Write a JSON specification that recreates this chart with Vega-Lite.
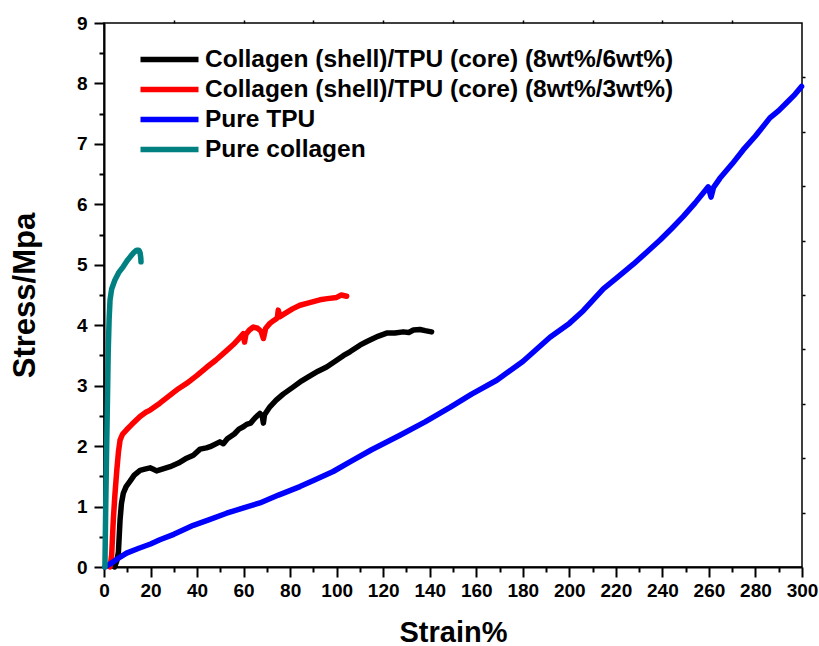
{
  "$schema": "https://vega.github.io/schema/vega-lite/v6.json",
  "width": 698,
  "height": 544,
  "autosize": "none",
  "padding": {"left": 104, "top": 23, "right": 17, "bottom": 79},
  "background": "white",
  "config": {
    "font": "Liberation Sans",
    "view": {"stroke": "black", "strokeWidth": 1.5}
  },
  "data": {
    "values": [
      {"s": "Collagen (shell)/TPU (core) (8wt%/6wt%)", "x": 4.5, "y": 0},
      {"s": "Collagen (shell)/TPU (core) (8wt%/6wt%)", "x": 5.5, "y": 0.1},
      {"s": "Collagen (shell)/TPU (core) (8wt%/6wt%)", "x": 6.2, "y": 0.25},
      {"s": "Collagen (shell)/TPU (core) (8wt%/6wt%)", "x": 6.9, "y": 0.78},
      {"s": "Collagen (shell)/TPU (core) (8wt%/6wt%)", "x": 7.5, "y": 1.05},
      {"s": "Collagen (shell)/TPU (core) (8wt%/6wt%)", "x": 8.3, "y": 1.22},
      {"s": "Collagen (shell)/TPU (core) (8wt%/6wt%)", "x": 9.5, "y": 1.33},
      {"s": "Collagen (shell)/TPU (core) (8wt%/6wt%)", "x": 11.2, "y": 1.42},
      {"s": "Collagen (shell)/TPU (core) (8wt%/6wt%)", "x": 13, "y": 1.52},
      {"s": "Collagen (shell)/TPU (core) (8wt%/6wt%)", "x": 15.5, "y": 1.6},
      {"s": "Collagen (shell)/TPU (core) (8wt%/6wt%)", "x": 17.5, "y": 1.62},
      {"s": "Collagen (shell)/TPU (core) (8wt%/6wt%)", "x": 19.8, "y": 1.64},
      {"s": "Collagen (shell)/TPU (core) (8wt%/6wt%)", "x": 21, "y": 1.62},
      {"s": "Collagen (shell)/TPU (core) (8wt%/6wt%)", "x": 22.6, "y": 1.59},
      {"s": "Collagen (shell)/TPU (core) (8wt%/6wt%)", "x": 25, "y": 1.62},
      {"s": "Collagen (shell)/TPU (core) (8wt%/6wt%)", "x": 28.4, "y": 1.66},
      {"s": "Collagen (shell)/TPU (core) (8wt%/6wt%)", "x": 32, "y": 1.72},
      {"s": "Collagen (shell)/TPU (core) (8wt%/6wt%)", "x": 35, "y": 1.79},
      {"s": "Collagen (shell)/TPU (core) (8wt%/6wt%)", "x": 38.4, "y": 1.85},
      {"s": "Collagen (shell)/TPU (core) (8wt%/6wt%)", "x": 41.3, "y": 1.95},
      {"s": "Collagen (shell)/TPU (core) (8wt%/6wt%)", "x": 44, "y": 1.97},
      {"s": "Collagen (shell)/TPU (core) (8wt%/6wt%)", "x": 45.6, "y": 1.99},
      {"s": "Collagen (shell)/TPU (core) (8wt%/6wt%)", "x": 49.8, "y": 2.07},
      {"s": "Collagen (shell)/TPU (core) (8wt%/6wt%)", "x": 51.3, "y": 2.04},
      {"s": "Collagen (shell)/TPU (core) (8wt%/6wt%)", "x": 53, "y": 2.12},
      {"s": "Collagen (shell)/TPU (core) (8wt%/6wt%)", "x": 56, "y": 2.2},
      {"s": "Collagen (shell)/TPU (core) (8wt%/6wt%)", "x": 58, "y": 2.28},
      {"s": "Collagen (shell)/TPU (core) (8wt%/6wt%)", "x": 59.9, "y": 2.32},
      {"s": "Collagen (shell)/TPU (core) (8wt%/6wt%)", "x": 61.3, "y": 2.36},
      {"s": "Collagen (shell)/TPU (core) (8wt%/6wt%)", "x": 63, "y": 2.38},
      {"s": "Collagen (shell)/TPU (core) (8wt%/6wt%)", "x": 65, "y": 2.47},
      {"s": "Collagen (shell)/TPU (core) (8wt%/6wt%)", "x": 67, "y": 2.54},
      {"s": "Collagen (shell)/TPU (core) (8wt%/6wt%)", "x": 68, "y": 2.5},
      {"s": "Collagen (shell)/TPU (core) (8wt%/6wt%)", "x": 68.5, "y": 2.38},
      {"s": "Collagen (shell)/TPU (core) (8wt%/6wt%)", "x": 69, "y": 2.52},
      {"s": "Collagen (shell)/TPU (core) (8wt%/6wt%)", "x": 71.3, "y": 2.65},
      {"s": "Collagen (shell)/TPU (core) (8wt%/6wt%)", "x": 74, "y": 2.76},
      {"s": "Collagen (shell)/TPU (core) (8wt%/6wt%)", "x": 77, "y": 2.86},
      {"s": "Collagen (shell)/TPU (core) (8wt%/6wt%)", "x": 81.4, "y": 2.98},
      {"s": "Collagen (shell)/TPU (core) (8wt%/6wt%)", "x": 85, "y": 3.08},
      {"s": "Collagen (shell)/TPU (core) (8wt%/6wt%)", "x": 88, "y": 3.15},
      {"s": "Collagen (shell)/TPU (core) (8wt%/6wt%)", "x": 92, "y": 3.24},
      {"s": "Collagen (shell)/TPU (core) (8wt%/6wt%)", "x": 95.7, "y": 3.31},
      {"s": "Collagen (shell)/TPU (core) (8wt%/6wt%)", "x": 100, "y": 3.42},
      {"s": "Collagen (shell)/TPU (core) (8wt%/6wt%)", "x": 103, "y": 3.5},
      {"s": "Collagen (shell)/TPU (core) (8wt%/6wt%)", "x": 105.7, "y": 3.56},
      {"s": "Collagen (shell)/TPU (core) (8wt%/6wt%)", "x": 110, "y": 3.67},
      {"s": "Collagen (shell)/TPU (core) (8wt%/6wt%)", "x": 113, "y": 3.73},
      {"s": "Collagen (shell)/TPU (core) (8wt%/6wt%)", "x": 115.7, "y": 3.78},
      {"s": "Collagen (shell)/TPU (core) (8wt%/6wt%)", "x": 118, "y": 3.82},
      {"s": "Collagen (shell)/TPU (core) (8wt%/6wt%)", "x": 121.5, "y": 3.87},
      {"s": "Collagen (shell)/TPU (core) (8wt%/6wt%)", "x": 125, "y": 3.87},
      {"s": "Collagen (shell)/TPU (core) (8wt%/6wt%)", "x": 128.6, "y": 3.89},
      {"s": "Collagen (shell)/TPU (core) (8wt%/6wt%)", "x": 131, "y": 3.88},
      {"s": "Collagen (shell)/TPU (core) (8wt%/6wt%)", "x": 133, "y": 3.92},
      {"s": "Collagen (shell)/TPU (core) (8wt%/6wt%)", "x": 135.8, "y": 3.93},
      {"s": "Collagen (shell)/TPU (core) (8wt%/6wt%)", "x": 138, "y": 3.91},
      {"s": "Collagen (shell)/TPU (core) (8wt%/6wt%)", "x": 140.8, "y": 3.89},

      {"s": "Collagen (shell)/TPU (core) (8wt%/3wt%)", "x": 2.6, "y": 0},
      {"s": "Collagen (shell)/TPU (core) (8wt%/3wt%)", "x": 3.3, "y": 0.2},
      {"s": "Collagen (shell)/TPU (core) (8wt%/3wt%)", "x": 4, "y": 0.78},
      {"s": "Collagen (shell)/TPU (core) (8wt%/3wt%)", "x": 4.7, "y": 1.2},
      {"s": "Collagen (shell)/TPU (core) (8wt%/3wt%)", "x": 5.5, "y": 1.6},
      {"s": "Collagen (shell)/TPU (core) (8wt%/3wt%)", "x": 6.2, "y": 1.9},
      {"s": "Collagen (shell)/TPU (core) (8wt%/3wt%)", "x": 6.9, "y": 2.1},
      {"s": "Collagen (shell)/TPU (core) (8wt%/3wt%)", "x": 8, "y": 2.2},
      {"s": "Collagen (shell)/TPU (core) (8wt%/3wt%)", "x": 9.7, "y": 2.27},
      {"s": "Collagen (shell)/TPU (core) (8wt%/3wt%)", "x": 12, "y": 2.36},
      {"s": "Collagen (shell)/TPU (core) (8wt%/3wt%)", "x": 15.5, "y": 2.49},
      {"s": "Collagen (shell)/TPU (core) (8wt%/3wt%)", "x": 18, "y": 2.56},
      {"s": "Collagen (shell)/TPU (core) (8wt%/3wt%)", "x": 20, "y": 2.6},
      {"s": "Collagen (shell)/TPU (core) (8wt%/3wt%)", "x": 24, "y": 2.71},
      {"s": "Collagen (shell)/TPU (core) (8wt%/3wt%)", "x": 28, "y": 2.83},
      {"s": "Collagen (shell)/TPU (core) (8wt%/3wt%)", "x": 32, "y": 2.95},
      {"s": "Collagen (shell)/TPU (core) (8wt%/3wt%)", "x": 36, "y": 3.05},
      {"s": "Collagen (shell)/TPU (core) (8wt%/3wt%)", "x": 40, "y": 3.17},
      {"s": "Collagen (shell)/TPU (core) (8wt%/3wt%)", "x": 44, "y": 3.3},
      {"s": "Collagen (shell)/TPU (core) (8wt%/3wt%)", "x": 48, "y": 3.42},
      {"s": "Collagen (shell)/TPU (core) (8wt%/3wt%)", "x": 52.7, "y": 3.58},
      {"s": "Collagen (shell)/TPU (core) (8wt%/3wt%)", "x": 55.6, "y": 3.68},
      {"s": "Collagen (shell)/TPU (core) (8wt%/3wt%)", "x": 58, "y": 3.78},
      {"s": "Collagen (shell)/TPU (core) (8wt%/3wt%)", "x": 59.9, "y": 3.86},
      {"s": "Collagen (shell)/TPU (core) (8wt%/3wt%)", "x": 60.4, "y": 3.72},
      {"s": "Collagen (shell)/TPU (core) (8wt%/3wt%)", "x": 61, "y": 3.85},
      {"s": "Collagen (shell)/TPU (core) (8wt%/3wt%)", "x": 62.5, "y": 3.92},
      {"s": "Collagen (shell)/TPU (core) (8wt%/3wt%)", "x": 64.2, "y": 3.97},
      {"s": "Collagen (shell)/TPU (core) (8wt%/3wt%)", "x": 66, "y": 3.95},
      {"s": "Collagen (shell)/TPU (core) (8wt%/3wt%)", "x": 67.5, "y": 3.9},
      {"s": "Collagen (shell)/TPU (core) (8wt%/3wt%)", "x": 68.5, "y": 3.78},
      {"s": "Collagen (shell)/TPU (core) (8wt%/3wt%)", "x": 69.5, "y": 3.95},
      {"s": "Collagen (shell)/TPU (core) (8wt%/3wt%)", "x": 71.3, "y": 4.03},
      {"s": "Collagen (shell)/TPU (core) (8wt%/3wt%)", "x": 73, "y": 4.08},
      {"s": "Collagen (shell)/TPU (core) (8wt%/3wt%)", "x": 74.5, "y": 4.12},
      {"s": "Collagen (shell)/TPU (core) (8wt%/3wt%)", "x": 74.9, "y": 4.25},
      {"s": "Collagen (shell)/TPU (core) (8wt%/3wt%)", "x": 75.6, "y": 4.14},
      {"s": "Collagen (shell)/TPU (core) (8wt%/3wt%)", "x": 78, "y": 4.2},
      {"s": "Collagen (shell)/TPU (core) (8wt%/3wt%)", "x": 81, "y": 4.27},
      {"s": "Collagen (shell)/TPU (core) (8wt%/3wt%)", "x": 84.2, "y": 4.33},
      {"s": "Collagen (shell)/TPU (core) (8wt%/3wt%)", "x": 88, "y": 4.37},
      {"s": "Collagen (shell)/TPU (core) (8wt%/3wt%)", "x": 92.8, "y": 4.42},
      {"s": "Collagen (shell)/TPU (core) (8wt%/3wt%)", "x": 96, "y": 4.44},
      {"s": "Collagen (shell)/TPU (core) (8wt%/3wt%)", "x": 100, "y": 4.46},
      {"s": "Collagen (shell)/TPU (core) (8wt%/3wt%)", "x": 102, "y": 4.5},
      {"s": "Collagen (shell)/TPU (core) (8wt%/3wt%)", "x": 104.3, "y": 4.48},

      {"s": "Pure TPU", "x": 0.4, "y": 0},
      {"s": "Pure TPU", "x": 3, "y": 0.06},
      {"s": "Pure TPU", "x": 6, "y": 0.14},
      {"s": "Pure TPU", "x": 9.7, "y": 0.23},
      {"s": "Pure TPU", "x": 15, "y": 0.31},
      {"s": "Pure TPU", "x": 20, "y": 0.38},
      {"s": "Pure TPU", "x": 24, "y": 0.45},
      {"s": "Pure TPU", "x": 30, "y": 0.54},
      {"s": "Pure TPU", "x": 38.4, "y": 0.69},
      {"s": "Pure TPU", "x": 45, "y": 0.78},
      {"s": "Pure TPU", "x": 52.7, "y": 0.89},
      {"s": "Pure TPU", "x": 60, "y": 0.98},
      {"s": "Pure TPU", "x": 67, "y": 1.06},
      {"s": "Pure TPU", "x": 75, "y": 1.19},
      {"s": "Pure TPU", "x": 84.2, "y": 1.33},
      {"s": "Pure TPU", "x": 90, "y": 1.43},
      {"s": "Pure TPU", "x": 98.5, "y": 1.58},
      {"s": "Pure TPU", "x": 105.7, "y": 1.74},
      {"s": "Pure TPU", "x": 115, "y": 1.94},
      {"s": "Pure TPU", "x": 127.2, "y": 2.18},
      {"s": "Pure TPU", "x": 138, "y": 2.4},
      {"s": "Pure TPU", "x": 148.7, "y": 2.64},
      {"s": "Pure TPU", "x": 158, "y": 2.86},
      {"s": "Pure TPU", "x": 168.8, "y": 3.09},
      {"s": "Pure TPU", "x": 180, "y": 3.4},
      {"s": "Pure TPU", "x": 191.7, "y": 3.8},
      {"s": "Pure TPU", "x": 200, "y": 4.03},
      {"s": "Pure TPU", "x": 206, "y": 4.24},
      {"s": "Pure TPU", "x": 214.6, "y": 4.6},
      {"s": "Pure TPU", "x": 220, "y": 4.77},
      {"s": "Pure TPU", "x": 227.5, "y": 5.01},
      {"s": "Pure TPU", "x": 233, "y": 5.2},
      {"s": "Pure TPU", "x": 239, "y": 5.41},
      {"s": "Pure TPU", "x": 244, "y": 5.6},
      {"s": "Pure TPU", "x": 249, "y": 5.8},
      {"s": "Pure TPU", "x": 254, "y": 6.02},
      {"s": "Pure TPU", "x": 259.7, "y": 6.29},
      {"s": "Pure TPU", "x": 260.9, "y": 6.12},
      {"s": "Pure TPU", "x": 262, "y": 6.28},
      {"s": "Pure TPU", "x": 264.7, "y": 6.43},
      {"s": "Pure TPU", "x": 270, "y": 6.67},
      {"s": "Pure TPU", "x": 274.7, "y": 6.9},
      {"s": "Pure TPU", "x": 280, "y": 7.13},
      {"s": "Pure TPU", "x": 286.2, "y": 7.43},
      {"s": "Pure TPU", "x": 290, "y": 7.55},
      {"s": "Pure TPU", "x": 293.4, "y": 7.68},
      {"s": "Pure TPU", "x": 297, "y": 7.82},
      {"s": "Pure TPU", "x": 299.8, "y": 7.95},

      {"s": "Pure collagen", "x": 0.4, "y": 0},
      {"s": "Pure collagen", "x": 0.7, "y": 0.9},
      {"s": "Pure collagen", "x": 1.1, "y": 1.88},
      {"s": "Pure collagen", "x": 1.5, "y": 2.8},
      {"s": "Pure collagen", "x": 1.8, "y": 3.54},
      {"s": "Pure collagen", "x": 2.2, "y": 4.1},
      {"s": "Pure collagen", "x": 2.6, "y": 4.42},
      {"s": "Pure collagen", "x": 3.3, "y": 4.6},
      {"s": "Pure collagen", "x": 4.7, "y": 4.75},
      {"s": "Pure collagen", "x": 6.3, "y": 4.87},
      {"s": "Pure collagen", "x": 8.3, "y": 4.97},
      {"s": "Pure collagen", "x": 10, "y": 5.07},
      {"s": "Pure collagen", "x": 11.9, "y": 5.16},
      {"s": "Pure collagen", "x": 13, "y": 5.21},
      {"s": "Pure collagen", "x": 14, "y": 5.24},
      {"s": "Pure collagen", "x": 15, "y": 5.24},
      {"s": "Pure collagen", "x": 15.5, "y": 5.2},
      {"s": "Pure collagen", "x": 15.8, "y": 5.12},
      {"s": "Pure collagen", "x": 15.9, "y": 5.05}
    ]
  },
  "layer": [
    {
      "mark": {"type": "line", "strokeWidth": 5.5, "strokeJoin": "round", "strokeCap": "round"},
      "encoding": {
        "x": {
          "field": "x", "type": "quantitative",
          "scale": {"domain": [0, 300], "nice": false, "zero": false},
          "axis": {
            "orient": "bottom",
            "values": [0,10,20,30,40,50,60,70,80,90,100,110,120,130,140,150,160,170,180,190,200,210,220,230,240,250,260,270,280,290,300],
            "labelExpr": "datum.value % 20 === 0 ? format(datum.value, 'd') : ''",
            "tickSize": {"condition": {"test": "datum.value % 20 !== 0", "value": 5}, "value": 10},
            "tickWidth": 2, "tickColor": "black",
            "domainWidth": 2, "domainColor": "black",
            "labelFontSize": 19, "labelFontWeight": "bold", "labelColor": "black",
            "labelPadding": 4, "labelOverlap": false, "labelFlush": false,
            "grid": false,
            "title": "Strain%", "titleFontSize": 29, "titleFontWeight": "bold", "titleColor": "black",
            "titlePadding": 18
          }
        },
        "y": {
          "field": "y", "type": "quantitative",
          "scale": {"domain": [0, 9], "nice": false, "zero": false},
          "axis": {
            "orient": "left",
            "values": [0,0.5,1,1.5,2,2.5,3,3.5,4,4.5,5,5.5,6,6.5,7,7.5,8,8.5,9],
            "labelExpr": "datum.value % 1 === 0 ? format(datum.value, 'd') : ''",
            "tickSize": {"condition": {"test": "datum.value % 1 !== 0", "value": 5}, "value": 10},
            "tickWidth": 2, "tickColor": "black",
            "domainWidth": 2, "domainColor": "black",
            "labelFontSize": 19, "labelFontWeight": "bold", "labelColor": "black",
            "labelPadding": 7, "labelOverlap": false, "labelFlush": false,
            "grid": false,
            "title": "Stress/Mpa", "titleFontSize": 31, "titleFontWeight": "bold", "titleColor": "black",
            "titlePadding": 35
          }
        },
        "color": {
          "field": "s", "type": "nominal",
          "scale": {
            "domain": ["Collagen (shell)/TPU (core) (8wt%/6wt%)", "Collagen (shell)/TPU (core) (8wt%/3wt%)", "Pure TPU", "Pure collagen"],
            "range": ["#000000", "#ff0000", "#0000ff", "#008080"]
          },
          "legend": {
            "orient": "none", "legendX": 53, "legendY": 24,
            "title": null,
            "symbolType": "M-3,0H3", "symbolSize": 374, "symbolStrokeWidth": 5.5,
            "labelFontSize": 24.5, "labelFontWeight": "bold", "labelColor": "black",
            "labelOffset": 23, "labelLimit": 600, "rowPadding": 5, "padding": 0
          }
        },
        "order": {"field": "x", "type": "quantitative"}
      }
    },
    {
      "mark": {"type": "point", "opacity": 0},
      "encoding": {
        "x": {
          "field": "x", "type": "quantitative",
          "axis": {
            "orient": "top", "values": [30,60,90,120,150,180,210,240,270],
            "labels": false, "domain": false, "grid": false, "title": null,
            "tickSize": 3, "tickWidth": 1.5, "tickColor": "black"
          }
        },
        "y": {
          "field": "y", "type": "quantitative",
          "axis": {
            "orient": "right", "values": [0.9,1.8,2.7,3.6,4.5,5.4,6.3,7.2,8.1],
            "labels": false, "domain": false, "grid": false, "title": null,
            "tickSize": 3, "tickWidth": 1.5, "tickColor": "black"
          }
        }
      }
    }
  ],
  "resolve": {"axis": {"x": "independent", "y": "independent"}}
}
